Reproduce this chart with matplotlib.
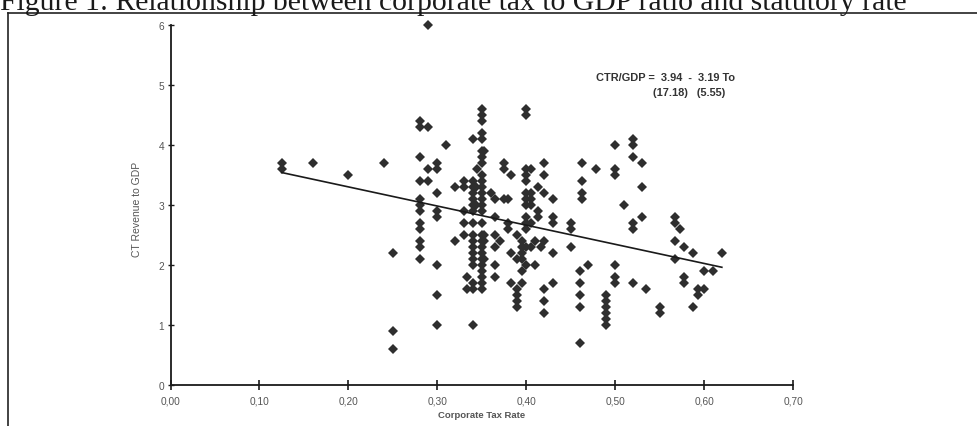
import matplotlib.pyplot as plt
from matplotlib.lines import Line2D

# values, grouped by tax-rate column
rates = [0.125, 0.16, 0.20, 0.24, 0.25,
         0.28, 0.29, 0.30, 0.31, 0.32, 0.33, 0.333,
         0.34, 0.344, 0.345, 0.35, 0.353,
         0.36, 0.365, 0.37, 0.375, 0.38, 0.383, 0.39, 0.395,
         0.40, 0.405, 0.41, 0.413, 0.417, 0.42, 0.43,
         0.45, 0.46, 0.463, 0.47, 0.478, 0.49, 0.50, 0.51, 0.52, 0.53, 0.535,
         0.55, 0.567, 0.573, 0.577, 0.588, 0.593, 0.60, 0.61, 0.62]
revenue = [[3.7, 3.6], [3.7], [3.5], [3.7], [2.2, 0.9, 0.6],
           [4.4, 4.3, 3.8, 3.4, 3.1, 3.0, 2.9, 2.7, 2.6, 2.4, 2.3, 2.1],
           [6.0, 4.3, 3.6, 3.4],
           [3.7, 3.6, 3.2, 2.9, 2.8, 2.0, 1.5, 1.0],
           [4.0],
           [3.3, 2.4],
           [3.4, 3.3, 2.9, 2.7, 2.5],
           [1.8, 1.6],
           [4.1, 3.4, 3.3, 3.2, 3.1, 3.0, 2.9, 2.7, 2.5, 2.4, 2.3, 2.2, 2.1, 2.0, 1.7, 1.6, 1.0],
           [3.3, 3.0],
           [3.6],
           [4.6, 4.5, 4.4, 4.2, 4.1, 3.9, 3.8, 3.7, 3.5, 3.4, 3.3, 3.2, 3.1, 3.0, 2.9,
            2.7, 2.5, 2.4, 2.3, 2.2, 2.1, 2.0, 1.9, 1.8, 1.7, 1.6],
           [3.9, 2.5, 2.4, 2.1],
           [3.2],
           [3.1, 2.8, 2.5, 2.3, 2.0, 1.8],
           [2.4],
           [3.7, 3.6, 3.1],
           [3.1, 2.7, 2.6],
           [3.5, 2.2, 1.7],
           [2.5, 2.1, 1.6, 1.5, 1.4, 1.3],
           [2.4, 2.3, 2.2, 2.1, 1.9, 1.7],
           [4.6, 4.5, 3.6, 3.5, 3.4, 3.2, 3.1, 3.0, 2.8, 2.7, 2.6, 2.3, 2.0],
           [3.6, 3.2, 3.1, 3.0, 2.7, 2.3],
           [2.4, 2.0],
           [3.3, 2.9, 2.8],
           [2.3],
           [3.7, 3.5, 3.2, 2.4, 1.6, 1.4, 1.2],
           [3.1, 2.8, 2.7, 2.2, 1.7],
           [2.7, 2.6, 2.3],
           [1.9, 1.7, 1.5, 1.3, 0.7],
           [3.7, 3.4, 3.2, 3.1],
           [2.0],
           [3.6],
           [1.5, 1.4, 1.3, 1.2, 1.1, 1.0],
           [4.0, 3.6, 3.5, 2.0, 1.8, 1.7],
           [3.0],
           [4.1, 4.0, 3.8, 2.7, 2.6, 1.7],
           [3.7, 3.3, 2.8],
           [1.6],
           [1.3, 1.2],
           [2.8, 2.7, 2.4, 2.1],
           [2.6],
           [2.3, 1.8, 1.7],
           [2.2, 1.3],
           [1.6, 1.5],
           [1.9, 1.6],
           [1.9],
           [2.2]]

# fitted line printed on the chart
intercept = 3.94
slope = -3.19
t_stats = (17.18, 5.55)
fit_range = (0.125, 0.62)

x_ticks = [0.0, 0.1, 0.2, 0.3, 0.4, 0.5, 0.6, 0.7]
x_labels = ['0,00', '0,10', '0,20', '0,30', '0,40', '0,50', '0,60', '0,70']
y_ticks = [0, 1, 2, 3, 4, 5, 6]
y_labels = ['0', '1', '2', '3', '4', '5', '6']

xs = []
ys = []
for r, vals in zip(rates, revenue):
    for v in vals:
        xs.append(r)
        ys.append(v)

W, H = 977, 427
fig = plt.figure(figsize=(W / 100, H / 100), dpi=100)
ax = fig.add_axes([170.5 / W, 41 / H, 622.5 / W, 360 / H])

ax.plot(xs, ys, linestyle='none', marker='D', markersize=4.7,
        color='#2e2e2e', markeredgewidth=0, clip_on=False)

fx = list(fit_range)
fy = [intercept + slope * v for v in fx]
ax.plot(fx, fy, color='#1a1a1a', linewidth=1.2)

ax.set_xlim(0, 0.7)
ax.set_ylim(0, 6)
ax.set_xticks(x_ticks)
ax.set_xticklabels(x_labels)
ax.set_yticks(y_ticks)
ax.set_yticklabels(y_labels)

for side in ['top', 'right']:
    ax.spines[side].set_visible(False)
for side in ['left', 'bottom']:
    ax.spines[side].set_linewidth(1.3)
    ax.spines[side].set_color('#1a1a1a')

ax.tick_params(axis='x', direction='inout', length=7, width=1.2,
               labelsize=7.3, pad=4, colors='#1a1a1a', labelcolor='#555555')
ax.tick_params(axis='y', direction='inout', length=5, width=1.0,
               labelsize=7.3, pad=2, colors='#1a1a1a', labelcolor='#555555')
for lab in ax.get_xticklabels() + ax.get_yticklabels():
    lab.set_family('Liberation Sans')

ax.set_xlabel('Corporate Tax Rate', fontsize=6.8, fontweight='bold',
              color='#555555', family='Liberation Sans')
ax.xaxis.set_label_coords(0.5, -0.07)
ax.set_ylabel('CT Revenue to GDP', fontsize=7.5, color='#555555',
              family='Liberation Sans')
ax.yaxis.set_label_coords(-0.045, 0.49)

ax.text(0.478, 5.13, 'CTR/GDP =  %.2f  -  %.2f To' % (intercept, abs(slope)),
        fontsize=7.9, fontweight='bold', color='#333333', va='center',
        ha='left', family='Liberation Sans')
ax.text(0.583, 4.89, '(%.2f)   (%.2f)' % t_stats,
        fontsize=7.9, fontweight='bold', color='#333333', va='center',
        ha='center', family='Liberation Sans')

fig.text(0, 1 - 10 / H,
         'Figure 1: Relationship between corporate tax to GDP ratio and statutory rate',
         fontsize=21.3, family='Liberation Serif', color='#1a1a1a',
         ha='left', va='baseline')

top = 1 - 14 / H
fig.add_artist(Line2D([8 / W, 1], [top, top], transform=fig.transFigure,
                      color='#222222', linewidth=1.2))
fig.add_artist(Line2D([8 / W, 8 / W], [0, top], transform=fig.transFigure,
                      color='#222222', linewidth=1.2))

fig.savefig('out.png', dpi=100)
